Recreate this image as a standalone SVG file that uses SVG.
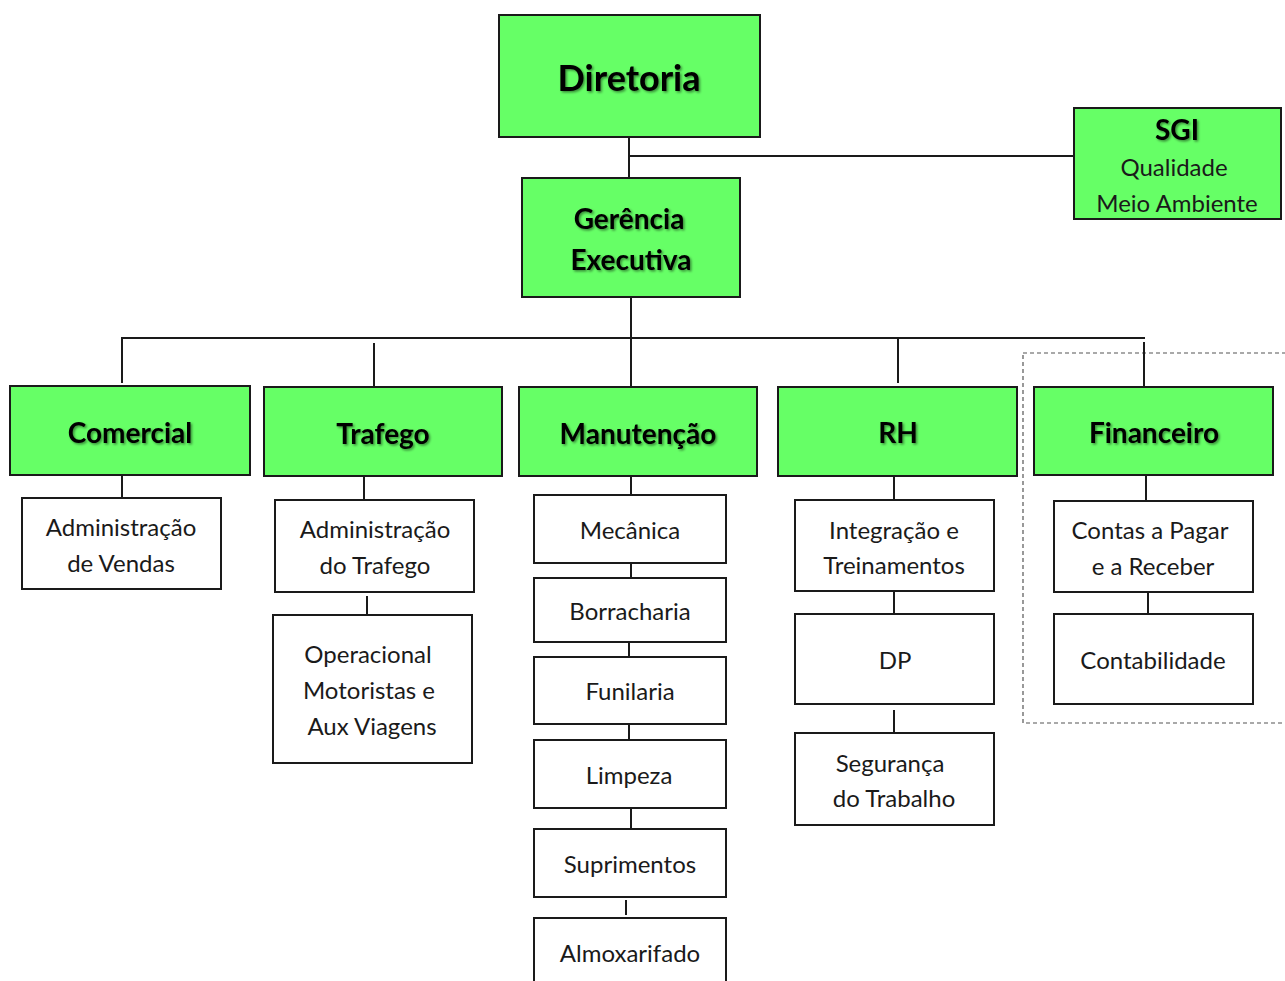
<svg xmlns="http://www.w3.org/2000/svg" width="1285" height="981" viewBox="0 0 1285 981">
<style>
.g{fill:#66ff66;stroke:#1a1a1a;stroke-width:2}
.w{fill:#ffffff;stroke:#1a1a1a;stroke-width:2}
.t{font-family:Lato,"Open Sans","Liberation Sans",sans-serif;font-weight:bold;fill:#000;text-anchor:middle;filter:url(#sh)}
.s{font-family:Lato,"Open Sans","Liberation Sans",sans-serif;fill:#1a1a1a;text-anchor:middle;font-size:24px}
.c line{stroke:#1a1a1a;stroke-width:2}
</style>
<defs>
<filter id="sh" x="-10%" y="-20%" width="130%" height="150%">
<feDropShadow dx="1.5" dy="1.5" stdDeviation="1" flood-color="#000" flood-opacity="0.45"/>
</filter>
</defs>
<rect width="1285" height="981" fill="#ffffff"/>
<rect x="1023" y="353" width="270" height="370" fill="none" stroke="#555" stroke-width="1.2" stroke-dasharray="4,3"/>
<g class="c" id="connectors">
<line x1="629" y1="137" x2="629" y2="178"/>
<line x1="629" y1="156" x2="1074" y2="156"/>
<line x1="631" y1="297" x2="631" y2="387"/>
<line x1="121" y1="338" x2="1145" y2="338"/>
<line x1="122" y1="337" x2="122" y2="383"/>
<line x1="374" y1="343" x2="374" y2="387"/>
<line x1="898" y1="338" x2="898" y2="383"/>
<line x1="1144" y1="342" x2="1144" y2="387"/>
<line x1="122" y1="475" x2="122" y2="498"/>
<line x1="364" y1="476" x2="364" y2="500"/>
<line x1="367" y1="596" x2="367" y2="615"/>
<line x1="631" y1="476" x2="631" y2="495"/>
<line x1="631" y1="563" x2="631" y2="582"/>
<line x1="629" y1="642" x2="629" y2="661"/>
<line x1="629" y1="724" x2="629" y2="743"/>
<line x1="631" y1="808" x2="631" y2="829"/>
<line x1="626" y1="900" x2="626" y2="915"/>
<line x1="894" y1="476" x2="894" y2="500"/>
<line x1="894" y1="589" x2="894" y2="617"/>
<line x1="894" y1="710" x2="894" y2="733"/>
<line x1="1146" y1="475" x2="1146" y2="501"/>
<line x1="1148" y1="592" x2="1148" y2="617"/>
</g>
<g id="diretoria"><rect class="g" x="499" y="15" width="261" height="122"/><text class="t" x="629" y="91" font-size="36">Diretoria</text></g>
<g id="sgi"><rect class="g" x="1074" y="108" width="207" height="111"/><text class="t" x="1177" y="140" font-size="28">SGI</text><text class="s" x="1174" y="176">Qualidade</text><text class="s" x="1177" y="212">Meio Ambiente</text></g>
<g id="gerencia"><rect class="g" x="522" y="178" width="218" height="119"/><text class="t" x="629" y="229" font-size="28">Gerência</text><text class="t" x="631" y="270" font-size="28">Executiva</text></g>
<g id="comercial"><rect class="g" x="10" y="386" width="240" height="89"/><text class="t" x="130" y="443" font-size="28">Comercial</text></g>
<g id="trafego"><rect class="g" x="264" y="387" width="238" height="89"/><text class="t" x="383" y="444" font-size="28">Trafego</text></g>
<g id="manutencao"><rect class="g" x="519" y="387" width="238" height="89"/><text class="t" x="638" y="444" font-size="28">Manutenção</text></g>
<g id="rh"><rect class="g" x="778" y="387" width="239" height="89"/><text class="t" x="898" y="443" font-size="28">RH</text></g>
<g id="financeiro"><rect class="g" x="1034" y="387" width="239" height="88"/><text class="t" x="1154" y="443" font-size="28">Financeiro</text></g>
<g id="adm-vendas"><rect class="w" x="22" y="498" width="199" height="91"/><text class="s" x="121" y="536">Administração</text><text class="s" x="121" y="572">de Vendas</text></g>
<g id="adm-trafego"><rect class="w" x="275" y="500" width="199" height="92"/><text class="s" x="375" y="538">Administração</text><text class="s" x="375" y="574">do Trafego</text></g>
<g id="operacional"><rect class="w" x="273" y="615" width="199" height="148"/><text class="s" x="368" y="663">Operacional</text><text class="s" x="369" y="699">Motoristas e</text><text class="s" x="372" y="735">Aux Viagens</text></g>
<g id="mecanica"><rect class="w" x="534" y="495" width="192" height="68"/><text class="s" x="630" y="539">Mecânica</text></g>
<g id="borracharia"><rect class="w" x="534" y="578" width="192" height="64"/><text class="s" x="630" y="620">Borracharia</text></g>
<g id="funilaria"><rect class="w" x="534" y="657" width="192" height="67"/><text class="s" x="630" y="700">Funilaria</text></g>
<g id="limpeza"><rect class="w" x="534" y="740" width="192" height="68"/><text class="s" x="629" y="784">Limpeza</text></g>
<g id="suprimentos"><rect class="w" x="534" y="829" width="192" height="68"/><text class="s" x="630" y="873">Suprimentos</text></g>
<g id="almoxarifado"><rect class="w" x="534" y="918" width="192" height="70"/><text class="s" x="630" y="962">Almoxarifado</text></g>
<g id="integracao"><rect class="w" x="795" y="500" width="199" height="91"/><text class="s" x="894" y="539">Integração e</text><text class="s" x="894" y="574">Treinamentos</text></g>
<g id="dp"><rect class="w" x="795" y="614" width="199" height="90"/><text class="s" x="895" y="669">DP</text></g>
<g id="seguranca"><rect class="w" x="795" y="733" width="199" height="92"/><text class="s" x="890" y="772">Segurança</text><text class="s" x="894" y="807">do Trabalho</text></g>
<g id="contas"><rect class="w" x="1054" y="501" width="199" height="91"/><text class="s" x="1150" y="539">Contas a Pagar</text><text class="s" x="1153" y="575">e a Receber</text></g>
<g id="contabilidade"><rect class="w" x="1054" y="614" width="199" height="90"/><text class="s" x="1153" y="669">Contabilidade</text></g>
</svg>
